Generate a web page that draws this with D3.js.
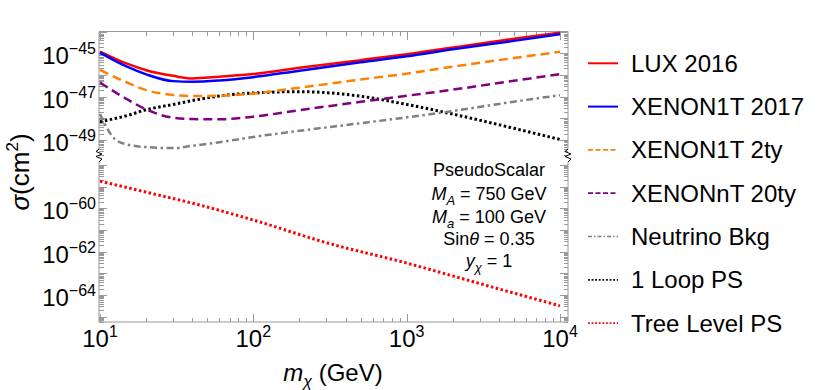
<!DOCTYPE html>
<html>
<head>
<meta charset="utf-8">
<script src="https://cdn.jsdelivr.net/npm/d3@7"></script>
<style>
  body { margin: 0; background: #fff; }
  svg { font-family: "Liberation Sans", Arial, sans-serif; }
</style>
</head>
<body>
<script>
  // masses (GeV) and cross sections (cm^2)
  const mass = [10, 15, 20, 30, 40, 60, 100, 200, 500, 1000, 2000, 5000, 10000];
  const lux2016 = [1.2e-45, 3.3e-46, 1.66e-46, 9.1e-47, 6.9e-47, 8.3e-47, 1.1e-46, 2.14e-46, 4.8e-46, 8.9e-46, 1.82e-45, 4.6e-45, 8.9e-45];
  const xenon1t2017 = [1.07e-45, 2.4e-46, 1.07e-46, 5.2e-47, 4.9e-47, 5.6e-47, 7.9e-47, 1.58e-46, 3.8e-46, 7.2e-46, 1.51e-45, 3.7e-45, 7.6e-45];
  const xenon1t2ty = [1.7e-46, 4.5e-47, 2.0e-47, 1.2e-47, 1.07e-47, 1.1e-47, 1.4e-47, 2.6e-47, 6.2e-47, 1.15e-46, 2.4e-46, 6.0e-46, 1.17e-45];
  const xenonnt20ty = [4.5e-47, 7.6e-48, 2.6e-48, 1.07e-48, 9.3e-49, 9.1e-49, 1.2e-48, 2.4e-48, 5.8e-48, 1.1e-47, 2.1e-47, 5.4e-47, 1.1e-46];
  const loopPS = [7.1e-49, 1.35e-48, 2.5e-48, 4.4e-48, 6.6e-48, 1.07e-47, 1.48e-47, 1.7e-47, 1.05e-47, 4.4e-48, 1.58e-48, 3.5e-49, 1.07e-49];

  const massNu = [10, 11, 12.5, 15, 20, 30, 40, 60, 100, 200, 500, 1000, 2000, 5000, 10000];
  const neutrinoBkg = [1.6e-48, 4.0e-49, 1.12e-49, 6.3e-50, 4.8e-50, 4.3e-50, 5.5e-50, 8.0e-50, 1.4e-49, 2.7e-49, 6.0e-49, 1.12e-48, 2.2e-48, 5.9e-48, 1.17e-47];

  const massTree = [10, 20, 45, 100, 300, 1000, 3000, 10000];
  const treePS = [1.8e-59, 5.6e-60, 1.4e-60, 2.9e-61, 2.6e-62, 3.0e-63, 3.4e-64, 3.2e-65];

  const xTickExp = [1, 2, 3, 4];
  const yTickExpUpper = [-45, -47, -49];
  const yTickExpLower = [-60, -62, -64];

  const legendNames = ['LUX 2016', 'XENON1T 2017', 'XENON1T 2ty', 'XENONnT 20ty', 'Neutrino Bkg', '1 Loop PS', 'Tree Level PS'];
  const notes = ['PseudoScalar', 'M|A| = 750 GeV', 'M|a| = 100 GeV', 'Sinθ = 0.35', 'y|χ| = 1'];

  const W = 819, H = 390;
  const frame = {left: 99, right: 568, top: 31.5, bottom: 322, breakTop: 149, breakBot: 162};

  const svg = d3.select('body').append('svg')
    .attr('width', W).attr('height', H);

  // scales
  const x = d3.scaleLog().domain([10, 1e4]).range([100, 560]);
  const yUp = d3.scaleLog().domain([1e-44, Math.pow(10, -49.73)]).range([frame.top, 156]);
  const yLo = d3.scaleLog().domain([Math.pow(10, -57.77), Math.pow(10, -65.24)]).range([160, frame.bottom]);

  const frameColor = '#999';

  // minor / major tick values
  const xMinor = [], xMajor = [];
  for (let e = 1; e <= 4; e++) {
    for (let k = 1; k <= 9; k++) {
      const v = k * Math.pow(10, e);
      if (v > 1e4 + 1) continue;
      (k === 1 ? xMajor : xMinor).push(v);
    }
  }
  function yTicks(lo, hi, scale) {
    const major = [], minor = [];
    for (let e = lo; e <= hi; e++) {
      for (let k = 1; k <= 9; k++) {
        const v = k * Math.pow(10, e);
        const p = scale(v);
        const r = scale.range();
        if (p < Math.min(...r) - 0.1 || p > Math.max(...r) + 0.1) continue;
        (k === 1 ? major : minor).push(v);
      }
    }
    return {major, minor};
  }
  const tUp = yTicks(-50, -44, yUp);
  const tLo = yTicks(-66, -58, yLo);

  const ax = svg.append('g').attr('class', 'axes');

  function styleAxis(g) {
    g.select('.domain').remove();
    g.selectAll('.tick line').attr('stroke', frameColor);
    g.selectAll('.tick text').remove();
  }

  // x axes (bottom and top), ticks pointing inward
  ax.append('g').attr('transform', `translate(0,${frame.bottom})`)
    .call(d3.axisBottom(x).tickValues(xMinor).tickSize(-4.5).tickFormat('')).call(styleAxis);
  ax.append('g').attr('transform', `translate(0,${frame.bottom})`)
    .call(d3.axisBottom(x).tickValues(xMajor).tickSize(-8).tickFormat('')).call(styleAxis);
  ax.append('g').attr('transform', `translate(0,${frame.top})`)
    .call(d3.axisTop(x).tickValues(xMinor).tickSize(-4.5).tickFormat('')).call(styleAxis);
  ax.append('g').attr('transform', `translate(0,${frame.top})`)
    .call(d3.axisTop(x).tickValues(xMajor).tickSize(-8).tickFormat('')).call(styleAxis);

  // y axes (left and right) for both panels
  [[yUp, tUp], [yLo, tLo]].forEach(([s, t]) => {
    ax.append('g').attr('transform', `translate(${frame.left},0)`)
      .call(d3.axisLeft(s).tickValues(t.minor).tickSize(-4.5).tickFormat('')).call(styleAxis);
    ax.append('g').attr('transform', `translate(${frame.left},0)`)
      .call(d3.axisLeft(s).tickValues(t.major).tickSize(-8).tickFormat('')).call(styleAxis);
    ax.append('g').attr('transform', `translate(${frame.right},0)`)
      .call(d3.axisRight(s).tickValues(t.minor).tickSize(-4.5).tickFormat('')).call(styleAxis);
    ax.append('g').attr('transform', `translate(${frame.right},0)`)
      .call(d3.axisRight(s).tickValues(t.major).tickSize(-8).tickFormat('')).call(styleAxis);
  });
  ax.selectAll('.tick line').attr('stroke-width', 1).attr('shape-rendering', 'crispEdges');

  // frame lines with a gap at the axis break
  const fr = ax.append('g').attr('stroke', frameColor).attr('stroke-width', 1).attr('fill', 'none');
  fr.append('line').attr('x1', frame.left).attr('x2', frame.right).attr('y1', frame.top).attr('y2', frame.top);
  fr.append('line').attr('x1', frame.left).attr('x2', frame.right).attr('y1', frame.bottom).attr('y2', frame.bottom);
  [frame.left, frame.right].forEach(xx => {
    fr.append('line').attr('x1', xx).attr('x2', xx).attr('y1', frame.top).attr('y2', frame.breakTop);
    fr.append('line').attr('x1', xx).attr('x2', xx).attr('y1', frame.breakBot).attr('y2', frame.bottom);
    // zigzag break marker
    const zz = [[0, frame.breakTop], [-3, 151.5], [3, 154], [-3, 156.5], [3, 159], [0, frame.breakBot]];
    svg.append('path')
      .attr('d', d3.line()(zz.map(p => [xx + p[0], p[1]])))
      .attr('fill', 'none').attr('stroke', '#000').attr('stroke-width', 1);
  });

  // tick labels
  const lab = svg.append('g').attr('fill', '#000');
  xTickExp.forEach(e => {
    const t = lab.append('text').attr('x', x(Math.pow(10, e))).attr('y', 347)
      .attr('text-anchor', 'middle').attr('font-size', 24);
    t.append('tspan').text('10');
    t.append('tspan').attr('dy', -10).attr('font-size', 16).text(e);
  });
  function yLabel(s, e) {
    const t = lab.append('text').attr('x', 96).attr('y', s(Math.pow(10, e)) + 11)
      .attr('text-anchor', 'end').attr('font-size', 24);
    t.append('tspan').text('10');
    t.append('tspan').attr('dy', -10).attr('font-size', 16).text('\u2212' + Math.abs(e));
  }
  yTickExpUpper.forEach(e => yLabel(yUp, e));
  yTickExpLower.forEach(e => yLabel(yLo, e));

  // axis titles
  const xt = svg.append('text').attr('x', 333).attr('y', 381)
    .attr('text-anchor', 'middle').attr('font-size', 24);
  xt.append('tspan').attr('font-style', 'italic').text('m');
  xt.append('tspan').attr('font-style', 'italic').attr('font-size', 16).attr('dy', 6).text('χ');
  xt.append('tspan').attr('dy', -6).text(' (GeV)');

  const yt = svg.append('text').attr('transform', 'translate(29,172) rotate(-90)')
    .attr('text-anchor', 'middle').attr('font-size', 26);
  yt.append('tspan').attr('font-style', 'italic').text('σ');
  yt.append('tspan').text('(cm');
  yt.append('tspan').attr('font-size', 17).attr('dy', -11).text('2');
  yt.append('tspan').attr('dy', 11).text(')');

  // curves
  const series = [
    {m: mass, v: lux2016, s: yUp, color: '#ff0000', w: 2.5, dash: null, lw: 2, ldash: null},
    {m: mass, v: xenon1t2017, s: yUp, color: '#0000ff', w: 2.5, dash: null, lw: 2, ldash: null},
    {m: mass, v: xenon1t2ty, s: yUp, color: '#ff8000', w: 2.5, dash: '9,5', lw: 1.8, ldash: '5,2.5'},
    {m: mass, v: xenonnt20ty, s: yUp, color: '#800080', w: 2.5, dash: '9,5', lw: 1.8, ldash: '5,2.5'},
    {m: massNu, v: neutrinoBkg, s: yUp, color: '#808080', w: 2.5, dash: '7,3.5,2.5,3.5', lw: 1.5, ldash: '4,2,1.5,2'},
    {m: mass, v: loopPS, s: yUp, color: '#000000', w: 3, dash: '2.5,2.5', lw: 1.8, ldash: '1.8,1.8'},
    {m: massTree, v: treePS, s: yLo, color: '#ff0000', w: 3, dash: '2.5,2.5', lw: 1.8, ldash: '1.8,1.8'}
  ];

  const plot = svg.append('g');
  // draw in order so that lower-listed lines sit beneath the limits
  const drawOrder = [6, 5, 4, 3, 2, 0, 1];
  drawOrder.forEach(i => {
    const d = series[i];
    const line = d3.line()
      .x(p => x(p[0]))
      .y(p => d.s(p[1]))
      .curve(d3.curveMonotoneX);
    plot.append('path')
      .attr('d', line(d.m.map((mm, j) => [mm, d.v[j]])))
      .attr('fill', 'none')
      .attr('stroke', d.color)
      .attr('stroke-width', d.w)
      .attr('stroke-dasharray', d.dash)
      .attr('stroke-linecap', 'butt');
  });

  // annotation
  const ann = svg.append('g').attr('font-size', 18).attr('text-anchor', 'middle');
  const annY = [176, 200, 222.5, 245, 267];
  notes.forEach((n, i) => {
    const t = ann.append('text').attr('x', 489).attr('y', annY[i]);
    const parts = n.split('|');
    if (parts.length === 1) {
      const th = n.indexOf('θ');
      if (th >= 0) {
        t.append('tspan').text(n.slice(0, th));
        t.append('tspan').attr('font-style', 'italic').text('θ');
        t.append('tspan').text(n.slice(th + 1));
      } else {
        t.text(n);
      }
    } else {
      t.append('tspan').attr('font-style', 'italic').text(parts[0]);
      t.append('tspan').attr('font-style', 'italic').attr('font-size', 13).attr('dy', 5).text(parts[1]);
      t.append('tspan').attr('dy', -5).text(parts[2]);
    }
  });

  // legend
  const leg = svg.append('g');
  legendNames.forEach((name, i) => {
    const d = series[i];
    const yy = 63.3 + i * 43.3;
    leg.append('line').attr('x1', 588).attr('x2', 618).attr('y1', yy).attr('y2', yy)
      .attr('stroke', d.color).attr('stroke-width', d.lw).attr('stroke-dasharray', d.ldash);
    leg.append('text').attr('x', 631).attr('y', yy + 8.5).attr('font-size', 24).text(name);
  });
</script>
</body>
</html>
